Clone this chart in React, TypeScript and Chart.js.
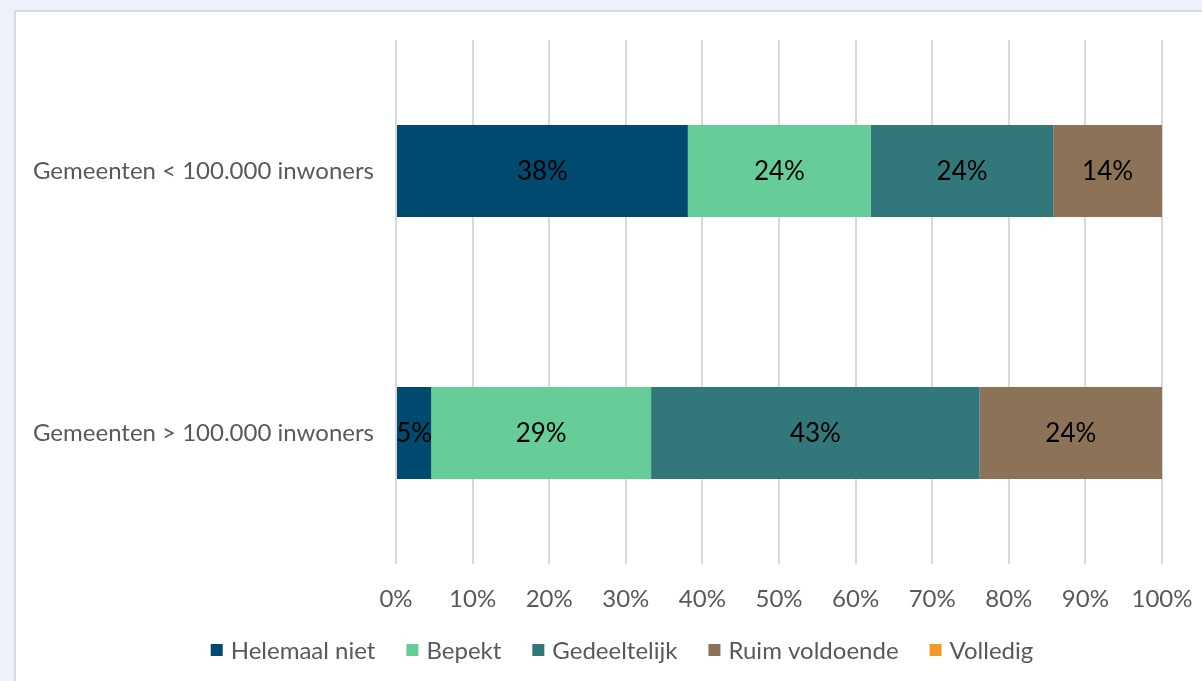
import React, { useEffect, useRef } from "react";
import { Chart, registerables } from "chart.js";

Chart.register(...registerables);

const categories = ["Gemeenten < 100.000 inwoners", "Gemeenten > 100.000 inwoners"];
const seriesNames = ["Helemaal niet", "Bepekt", "Gedeeltelijk", "Ruim voldoende", "Volledig"];
const helemaalNiet = [38.1, 4.6];
const bepekt = [23.9, 28.7];
const gedeeltelijk = [23.8, 42.9];
const ruimVoldoende = [14.2, 23.8];
const volledig = [0, 0];
const seriesColors = ["#004A6F", "#66CD99", "#32787B", "#8C7257", "#F09A2C"];
const xTicks = [0, 10, 20, 30, 40, 50, 60, 70, 80, 90, 100];

const FONT = "Lato, 'Noto Sans', sans-serif";

const valueLabels = {
  id: "valueLabels",
  afterDatasetsDraw(chart: any) {
    const ctx = chart.ctx;
    ctx.save();
    ctx.font = `26px ${FONT}`;
    ctx.fillStyle = "#000000";
    ctx.textAlign = "center";
    ctx.textBaseline = "middle";
    chart.data.datasets.forEach((ds: any, i: number) => {
      const meta = chart.getDatasetMeta(i);
      meta.data.forEach((bar: any, j: number) => {
        const v = ds.data[j];
        if (!v) return;
        const cx = (bar.x + bar.base) / 2;
        ctx.fillText(Math.round(v) + "%", cx, bar.y + 1);
      });
    });
    ctx.restore();
  },
};

const customLegend = {
  id: "customLegend",
  afterDraw(chart: any) {
    const ctx = chart.ctx;
    ctx.save();
    ctx.font = `24px ${FONT}`;
    ctx.textBaseline = "middle";
    ctx.textAlign = "left";
    const box = 12;
    const gapText = 8;
    const gapItem = 31;
    const items = chart.data.datasets.map((ds: any) => ({
      text: ds.label,
      color: ds.backgroundColor,
      w: box + gapText + ctx.measureText(ds.label).width,
    }));
    const total = items.reduce((s: number, it: any) => s + it.w, 0) + gapItem * (items.length - 1);
    let x = 622 - total / 2;
    const y = 650;
    items.forEach((it: any) => {
      ctx.fillStyle = it.color;
      ctx.fillRect(x, y - box / 2, box, box);
      ctx.fillStyle = "#595959";
      ctx.fillText(it.text, x + box + gapText, y + 1);
      x += it.w + gapItem;
    });
    ctx.restore();
  },
};

export default function App() {
  const ref = useRef<HTMLCanvasElement>(null);
  useEffect(() => {
    document.body.style.margin = "0";
    const all = [helemaalNiet, bepekt, gedeeltelijk, ruimVoldoende, volledig];
    const chart = new Chart(ref.current!, {
      type: "bar",
      data: {
        labels: categories,
        datasets: all.map((d, i) => ({
          label: seriesNames[i],
          data: d,
          backgroundColor: seriesColors[i],
          borderWidth: 0,
          categoryPercentage: 1,
          barPercentage: 0.352,
        })),
      },
      options: {
        indexAxis: "y",
        responsive: false,
        animation: false,
        layout: { padding: { top: 40, right: 40, bottom: 51, left: 0 } },
        scales: {
          x: {
            stacked: true,
            min: 0,
            max: 100,
            afterBuildTicks(scale: any) {
              scale.ticks = xTicks.map((v) => ({ value: v }));
            },
            afterFit(scale: any) {
              scale.height = 66;
              scale.paddingLeft = 0;
              scale.paddingRight = 0;
            },
            grid: { color: "#d9d9d9", lineWidth: 2, drawTicks: false },
            border: { display: false },
            ticks: {
              padding: 21,
              color: "#595959",
              font: { family: FONT, size: 24 },
              callback: (v: any) => v + "%",
              maxRotation: 0,
            },
          },
          y: {
            stacked: true,
            afterFit(scale: any) {
              scale.width = 396;
            },
            grid: { display: false, drawTicks: false },
            border: { display: false },
            ticks: {
              padding: 22,
              color: "#595959",
              font: { family: FONT, size: 24 },
            },
          },
        },
        plugins: {
          legend: { display: false },
          tooltip: { enabled: false },
        },
      },
      plugins: [valueLabels, customLegend],
    } as any);
    return () => chart.destroy();
  }, []);
  return (
    <div style={{ position: "fixed", left: 0, top: 0, width: 1202, height: 681, background: "#eef1f9", overflow: "hidden" }}>
      <div
        style={{
          position: "absolute",
          left: 14,
          top: 10,
          width: 1200,
          height: 690,
          background: "#ffffff",
          border: "2px solid #d9d9d9",
        }}
      />
      <canvas ref={ref} width={1202} height={681} style={{ position: "absolute", left: 0, top: 0 }} />
    </div>
  );
}
